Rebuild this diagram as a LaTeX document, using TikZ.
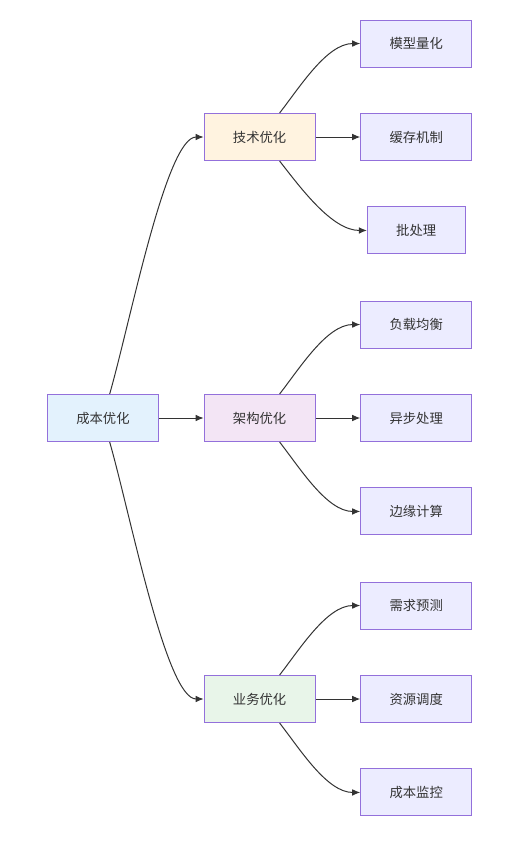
\documentclass[tikz,border=0pt]{standalone}
\usepackage{fontspec}
\newfontfamily\cjk{Noto Sans CJK SC}
\usepackage{tikz}
\usetikzlibrary{arrows.meta,positioning}

\definecolor{boxline}{HTML}{9370DB}
\definecolor{leaffill}{HTML}{ECECFF}
\definecolor{rootfill}{HTML}{E3F2FD}
\definecolor{techfill}{HTML}{FFF3E0}
\definecolor{archfill}{HTML}{F3E5F5}
\definecolor{bizfill}{HTML}{E8F5E9}
\definecolor{edgeline}{HTML}{333333}
\definecolor{textcol}{HTML}{333333}

\begin{document}
\begin{tikzpicture}[auto,>={Latex[length=6pt,width=5pt]},x=0.75pt,y=0.75pt]
	\tikzstyle{block} = [draw=boxline, line width=0.75pt, rectangle, minimum height=35.25pt, inner xsep=21.6pt, text=textcol, font=\cjk\fontsize{10}{12}\selectfont]
	\tikzstyle{leaf} = [block, fill=leaffill]
	\tikzstyle{link} = [->, draw=edgeline, line width=0.75pt]
	
	\useasboundingbox (-103,-426) rectangle (428,418);
	
	\node [block, fill=rootfill] (cost) at (0,0) {成本优化};
	
	\node [block, fill=archfill, right = 33.5pt of cost] (arch) {架构优化};
	\node [block, fill=techfill, above = 174.75pt of arch] (tech) {技术优化};
	\node [block, fill=bizfill, below = 174.75pt of arch] (biz) {业务优化};
	
	% leaves of the first branch
	\node [leaf, right = 33.5pt of tech] (cache) {缓存机制};
	\node [leaf, above = 34.1pt of cache] (quant) {模型量化};
	\node [leaf, below = 34.1pt of cache] (batch) {批处理};
	
	% leaves of the second branch
	\node [leaf, right = 33.5pt of arch] (async) {异步处理};
	\node [leaf, above = 34.1pt of async] (balance) {负载均衡};
	\node [leaf, below = 34.1pt of async] (edge) {边缘计算};
	
	% leaves of the third branch
	\node [leaf, right = 33.5pt of biz] (sched) {资源调度};
	\node [leaf, above = 34.1pt of sched] (demand) {需求预测};
	\node [leaf, below = 34.1pt of sched] (monitor) {成本监控};
	
	\draw [link] ([xshift=5pt]cost.north) to[out=74, in=180, out looseness=0.7, in looseness=0.35] (tech.west);
	\draw [link] (cost) -- (arch);
	\draw [link] ([xshift=5pt]cost.south) to[out=-74, in=180, out looseness=0.7, in looseness=0.35] (biz.west);
	
	\draw [link] ([xshift=15pt]tech.north) to[out=52, in=180, looseness=0.8] (quant.west);
	\draw [link] (tech) -- (cache);
	\draw [link] ([xshift=15pt]tech.south) to[out=-52, in=180, looseness=0.8] (batch.west);
	
	\draw [link] ([xshift=15pt]arch.north) to[out=52, in=180, looseness=0.8] (balance.west);
	\draw [link] (arch) -- (async);
	\draw [link] ([xshift=15pt]arch.south) to[out=-52, in=180, looseness=0.8] (edge.west);
	
	\draw [link] ([xshift=15pt]biz.north) to[out=52, in=180, looseness=0.8] (demand.west);
	\draw [link] (biz) -- (sched);
	\draw [link] ([xshift=15pt]biz.south) to[out=-52, in=180, looseness=0.8] (monitor.west);
	
\end{tikzpicture}
\end{document}
